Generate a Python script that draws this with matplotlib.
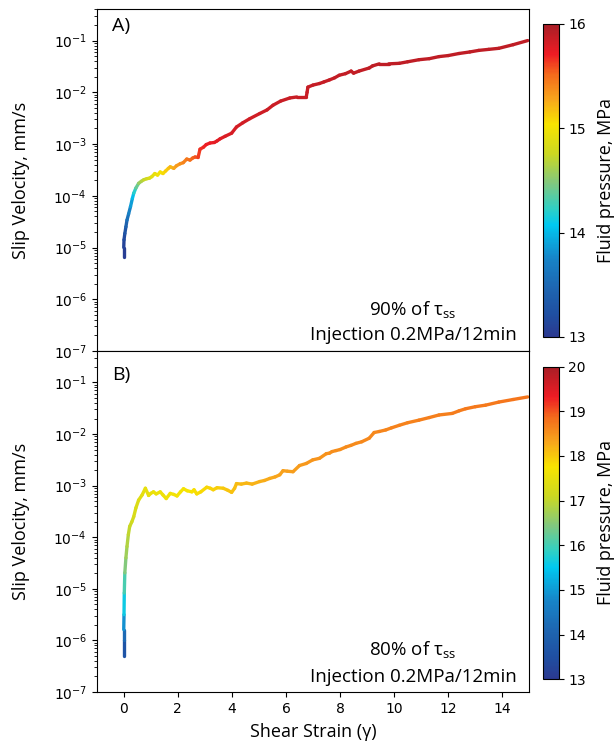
import numpy as np
import matplotlib
matplotlib.use("Agg")
import matplotlib.pyplot as plt
from matplotlib.collections import LineCollection
from matplotlib.colors import LinearSegmentedColormap, Normalize
from matplotlib.cm import ScalarMappable

plt.rcParams["mathtext.fontset"] = "custom"
plt.rcParams["mathtext.rm"] = "Open Sans"
plt.rcParams["font.family"] = ["DejaVu Sans"]

# ---- Panel A: 90% of tau_ss ----
strain_a = [0.00, 0.00, 0.01, 0.04, 0.08, 0.12, 0.18, 0.25, 0.32, 0.37, 0.45, 0.55,
            0.65, 0.74, 0.85, 0.95, 1.04, 1.15, 1.25, 1.35, 1.45, 1.55, 1.65, 1.72,
            1.85, 1.95, 2.09, 2.20, 2.33, 2.45, 2.55, 2.64, 2.75, 2.82, 2.95, 3.05,
            3.19, 3.35, 3.45, 3.56, 3.75, 3.99, 4.17, 4.40, 4.66, 5.03, 5.30, 5.52,
            5.80, 6.14, 6.40, 6.75, 6.78, 6.81, 7.00, 7.24, 7.40, 7.61, 7.80, 7.97,
            8.20, 8.41, 8.50, 8.70, 9.08, 9.20, 9.45, 9.80, 10.19, 10.50, 10.92, 11.30,
            11.66, 12.00, 12.40, 12.80, 13.13, 13.50, 13.87, 14.40, 14.94]
log_vel_a = [-5.19, -5.00, -4.85, -4.73, -4.60, -4.47, -4.35, -4.21, -4.05, -3.95, -3.85, -3.76,
             -3.72, -3.69, -3.67, -3.66, -3.63, -3.57, -3.60, -3.54, -3.57, -3.52, -3.47, -3.44,
             -3.47, -3.42, -3.38, -3.36, -3.29, -3.31, -3.27, -3.25, -3.26, -3.10, -3.06, -3.01,
             -2.98, -2.97, -2.94, -2.90, -2.85, -2.79, -2.67, -2.59, -2.51, -2.41, -2.34, -2.25,
             -2.17, -2.11, -2.09, -2.09, -2.00, -1.90, -1.86, -1.83, -1.80, -1.76, -1.72, -1.67,
             -1.64, -1.59, -1.63, -1.59, -1.53, -1.49, -1.45, -1.45, -1.44, -1.41, -1.37, -1.35,
             -1.31, -1.29, -1.25, -1.22, -1.19, -1.17, -1.15, -1.08, -1.00]
pressure_a = [13.02, 13.08, 13.15, 13.22, 13.35, 13.50, 13.65, 13.80, 13.95, 14.10, 14.30, 14.50,
              14.62, 14.70, 14.78, 14.83, 14.88, 14.93, 14.97, 15.00, 15.05, 15.10, 15.15, 15.20,
              15.25, 15.30, 15.35, 15.40, 15.45, 15.48, 15.52, 15.55, 15.60, 15.65, 15.68, 15.70,
              15.72, 15.74, 15.75, 15.76, 15.78, 15.80, 15.81, 15.82, 15.83, 15.84, 15.85, 15.85,
              15.86, 15.86, 15.87, 15.87, 15.87, 15.87, 15.88, 15.88, 15.88, 15.88, 15.88, 15.89,
              15.89, 15.89, 15.89, 15.89, 15.89, 15.90, 15.90, 15.90, 15.90, 15.90, 15.90, 15.90,
              15.90, 15.90, 15.90, 15.90, 15.90, 15.90, 15.90, 15.90, 15.90]

# ---- Panel B: 80% of tau_ss ----
strain_b = [0.00, 0.00, 0.00, 0.01, 0.02, 0.04, 0.08, 0.12, 0.17, 0.22, 0.30, 0.37,
            0.45, 0.55, 0.68, 0.80, 0.92, 1.00, 1.10, 1.20, 1.35, 1.45, 1.57, 1.72,
            1.85, 1.97, 2.10, 2.21, 2.35, 2.52, 2.60, 2.70, 2.85, 3.07, 3.20, 3.31,
            3.45, 3.68, 3.85, 3.99, 4.10, 4.17, 4.35, 4.54, 4.75, 5.03, 5.20, 5.40,
            5.60, 5.77, 5.89, 6.05, 6.26, 6.50, 6.75, 6.99, 7.24, 7.49, 7.61, 7.70,
            7.85, 8.00, 8.22, 8.40, 8.59, 8.80, 9.08, 9.26, 9.45, 9.69, 9.90, 10.19,
            10.50, 10.92, 11.30, 11.66, 12.15, 12.40, 12.64, 13.00, 13.38, 13.87, 14.40, 14.94]
log_vel_b = [-6.31, -6.00, -5.79, -5.50, -5.08, -4.69, -4.40, -4.18, -3.95, -3.79, -3.70, -3.60,
             -3.43, -3.28, -3.18, -3.05, -3.19, -3.15, -3.12, -3.16, -3.12, -3.18, -3.25, -3.15,
             -3.17, -3.20, -3.12, -3.06, -3.10, -3.12, -3.08, -3.16, -3.12, -3.03, -3.05, -3.08,
             -3.04, -3.05, -3.09, -3.13, -3.05, -2.96, -2.97, -2.95, -2.97, -2.92, -2.90, -2.86,
             -2.83, -2.79, -2.71, -2.72, -2.73, -2.61, -2.57, -2.50, -2.47, -2.38, -2.37, -2.34,
             -2.32, -2.30, -2.25, -2.22, -2.18, -2.15, -2.08, -1.97, -1.95, -1.92, -1.88, -1.83,
             -1.78, -1.73, -1.68, -1.63, -1.60, -1.55, -1.51, -1.47, -1.44, -1.38, -1.33, -1.28]
pressure_b = [13.30, 14.00, 14.40, 15.40, 15.80, 16.30, 16.60, 16.80, 16.95, 17.05, 17.15, 17.25,
              17.30, 17.35, 17.42, 17.50, 17.52, 17.55, 17.57, 17.58, 17.60, 17.61, 17.62, 17.64,
              17.66, 17.68, 17.70, 17.72, 17.74, 17.76, 17.78, 17.80, 17.83, 17.87, 17.90, 17.93,
              17.96, 17.99, 18.02, 18.05, 18.08, 18.10, 18.13, 18.16, 18.19, 18.22, 18.25, 18.28,
              18.30, 18.33, 18.35, 18.37, 18.40, 18.42, 18.44, 18.46, 18.48, 18.50, 18.51, 18.52,
              18.53, 18.54, 18.55, 18.56, 18.57, 18.58, 18.59, 18.60, 18.61, 18.62, 18.63, 18.64,
              18.65, 18.66, 18.67, 18.68, 18.69, 18.70, 18.71, 18.72, 18.73, 18.74, 18.75, 18.76]

xticks = [0, 2, 4, 6, 8, 10, 12, 14]
cbar_ticks_a = [13, 14, 15, 16]
cbar_ticks_b = [13, 14, 15, 16, 17, 18, 19, 20]

# spectrum colour map: dark blue -> cyan -> yellow -> red -> dark red
spectrum = LinearSegmentedColormap.from_list("spectrum", [
    (0.00, "#2b3990"), (0.07, "#1f4fa2"), (0.15, "#1e64b0"), (0.25, "#1784c8"),
    (0.357, "#00c8f0"), (0.41, "#30d0c4"), (0.49, "#80c880"), (0.585, "#cbd822"),
    (0.68, "#f8e400"), (0.76, "#f8a61c"), (0.84, "#f46a1c"), (0.905, "#ee1c24"),
    (1.00, "#a81e26")])

fig = plt.figure(figsize=(6.14, 7.5), dpi=100)
ax_a = fig.add_axes([0.1575, 0.532, 0.7046, 0.456])
ax_b = fig.add_axes([0.1575, 0.0773, 0.7046, 0.4547])
cax_a = fig.add_axes([0.8839, 0.5507, 0.0261, 0.4173])
cax_b = fig.add_axes([0.8839, 0.0943, 0.0261, 0.4168])

label_font = dict(family="Open Sans", size=13)


def draw_panel(ax, cax, strain, log_vel, pressure, vmin, vmax, ticks,
               letter, letter_y, line1, y1, y2):
    x = np.asarray(strain, dtype=float)
    v = 10.0 ** np.asarray(log_vel, dtype=float)
    p = np.asarray(pressure, dtype=float)
    norm = Normalize(vmin=vmin, vmax=vmax)
    pts = np.column_stack([x, v]).reshape(-1, 1, 2)
    segs = np.concatenate([pts[:-1], pts[1:]], axis=1)
    lc = LineCollection(segs, cmap=spectrum, norm=norm, linewidths=2.4,
                        capstyle="round", joinstyle="round")
    lc.set_array(0.5 * (p[:-1] + p[1:]))
    ax.add_collection(lc)

    ax.set_yscale("log")
    ax.set_xlim(-1, 15)
    ax.set_ylim(1e-7, 10 ** -0.39)
    ax.set_xticks(xticks)
    ax.tick_params(labelsize=10)
    ax.set_ylabel("Slip Velocity, mm/s", fontdict=label_font)
    ax.yaxis.set_label_coords(-0.155, 0.5)
    ax.text(0.056, letter_y, letter, transform=ax.transAxes, ha="center",
            va="center", family="Open Sans", size=14)
    ax.text(0.731, y1, line1, transform=ax.transAxes, ha="center", va="center",
            family="Open Sans", size=13.5)
    ax.text(0.731, y2, "Injection 0.2MPa/12min", transform=ax.transAxes,
            ha="center", va="center", family="Open Sans", size=13.5)

    sm = ScalarMappable(norm=norm, cmap=spectrum)
    cb = fig.colorbar(sm, cax=cax, ticks=ticks)
    cb.ax.tick_params(labelsize=10)
    cb.set_label("Fluid pressure, MPa", fontdict=label_font, labelpad=8)


draw_panel(ax_a, cax_a, strain_a, log_vel_a, pressure_a, 13, 16, cbar_ticks_a,
           "A)", 0.95, "90% of τ$_{\\mathrm{ss}}$", 0.12, 0.047)
draw_panel(ax_b, cax_b, strain_b, log_vel_b, pressure_b, 13, 20, cbar_ticks_b,
           "B)", 0.93, "80% of τ$_{\\mathrm{ss}}$", 0.123, 0.045)

ax_a.tick_params(axis="x", labelbottom=False)
ax_b.set_xlabel("Shear Strain (γ)", fontdict=label_font, labelpad=5)

fig.savefig("out.png", dpi=100)
